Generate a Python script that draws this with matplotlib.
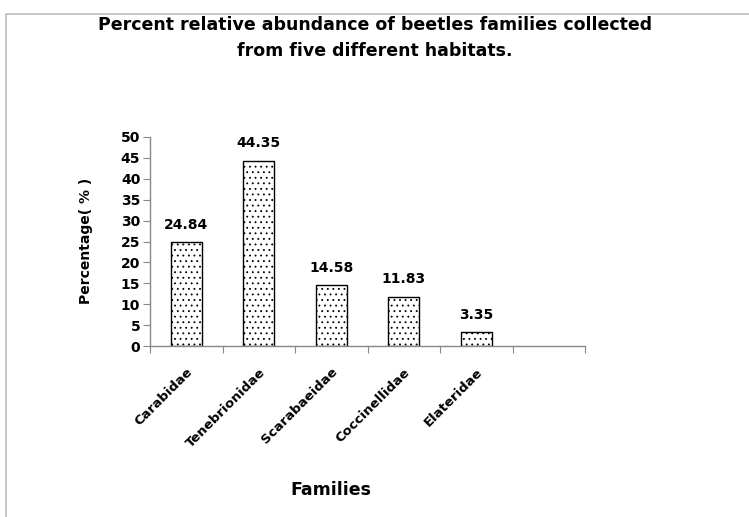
import matplotlib as mpl
mpl.use('Agg')
import matplotlib.pyplot as plt
from matplotlib.patches import Rectangle

families = ["Carabidae", "Tenebrionidae", "Scarabaeidae", "Coccinellidae", "Elateridae"]
percent = [24.84, 44.35, 14.58, 11.83, 3.35]
n_slots = 6  # excel left one empty category slot at the end

plt.rcParams['hatch.color'] = '#999999'
plt.rcParams['hatch.linewidth'] = 0.6

fig = plt.figure(figsize=(7.49, 5.17), dpi=100)
# light grey chart border, cut off at right and bottom
fig.patches.append(Rectangle((6 / 749, -0.1), 1.2, 1 - 14 / 517 + 0.1,
                             transform=fig.transFigure, fill=False,
                             edgecolor='#bbbbbb', linewidth=1.2))

ax = fig.add_axes([150 / 749, 1 - 346 / 517, 435 / 749, (346 - 137) / 517])

xs = [i + 0.5 for i in range(len(families))]
bars = ax.bar(xs, percent, width=0.43, color='white', edgecolor='black',
              linewidth=1.0, hatch='...')
for x, v in zip(xs, percent):
    ax.text(x, v + 2.5, f"{v:.2f}", ha='center', va='bottom',
            fontsize=10, fontweight='bold')

ax.set_xlim(0, n_slots)
ax.set_ylim(0, 50)
ax.set_yticks(range(0, 51, 5))
ax.set_yticklabels([str(t) for t in range(0, 51, 5)], fontsize=10, fontweight='bold')

ax.set_xticks(range(0, n_slots + 1))
ax.set_xticklabels([])
ax.set_xticks(xs, minor=True)
ax.set_xticklabels(families, minor=True, rotation=45, ha='right',
                   rotation_mode='anchor', fontsize=9.5, fontweight='bold')
ax.tick_params(axis='x', which='minor', length=0, pad=14)
ax.tick_params(axis='x', which='major', length=5, color='#888888', direction='out')
ax.tick_params(axis='y', length=5, color='#888888', direction='out', pad=2)

for side in ['top', 'right']:
    ax.spines[side].set_visible(False)
for side in ['left', 'bottom']:
    ax.spines[side].set_color('#888888')
    ax.spines[side].set_linewidth(1.0)

fig.text(86 / 749, 1 - 241 / 517, "Percentage( % )", rotation=90, ha='center', va='center',
         fontsize=10, fontweight='bold')
fig.text(331 / 749, 1 - 490 / 517, "Families", ha='center', va='center',
         fontsize=12.5, fontweight='bold')
fig.text(375 / 749, 1 - 38 / 517,
         "Percent relative abundance of beetles families collected\nfrom five different habitats.",
         ha='center', va='center', fontsize=12.5, fontweight='bold', linespacing=1.55)

fig.savefig("out.png", dpi=100)
